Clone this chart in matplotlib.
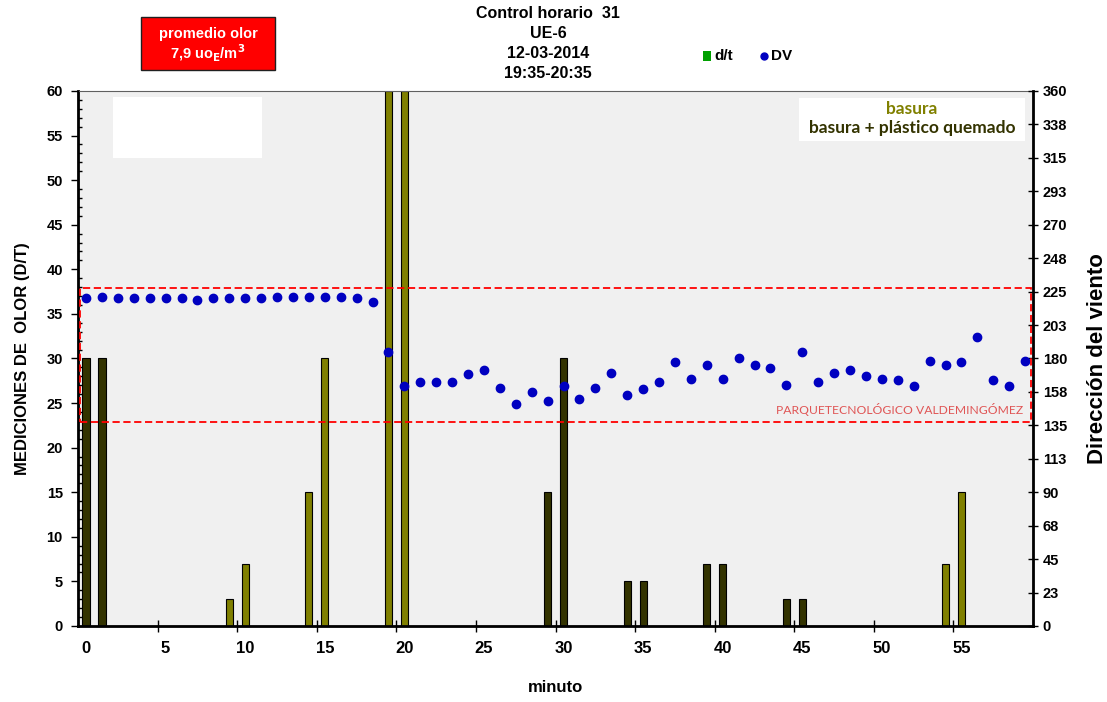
import numpy as np
import matplotlib.pyplot as plt
from matplotlib.patches import Rectangle

plt.rcParams['font.family'] = ['Liberation Sans', 'DejaVu Sans']

# datos
minutos = np.arange(60)
dv = [220.5, 221.3, 220.5, 220.5, 220.5, 220.5, 220.5, 219.5, 220.5, 220.5,
      220.5, 220.5, 221.2, 221.2, 221.2, 221.2, 221.2, 220.5, 218.3, 184.5,
      161.5, 164.4, 164.4, 164.4, 169.6, 172.5, 160.4, 149.4, 157.5, 151.4,
      161.5, 152.5, 160.4, 170.5, 155.4, 159.5, 164.4, 177.3, 166.4, 175.4,
      166.4, 180.6, 175.4, 173.4, 162.4, 184.6, 164.4, 170.5, 172.3, 168.4,
      166.4, 165.5, 161.5, 178.5, 175.4, 177.4, 194.3, 165.5, 161.5, 178.5]
bar_min = [0, 1, 9, 10, 14, 15, 19, 20, 29, 30, 34, 35, 39, 40, 44, 45, 54, 55]
bar_dt = [30, 30, 3, 7, 15, 30, 60, 60, 15, 30, 5, 5, 7, 7, 3, 3, 7, 15]
bar_tipo = ['bq', 'bq', 'b', 'b', 'b', 'b', 'b', 'b', 'bq', 'bq',
            'bq', 'bq', 'bq', 'bq', 'bq', 'bq', 'b', 'b']
colores = {'b': '#808000', 'bq': '#333300'}
x_ticks = [0, 5, 10, 15, 20, 25, 30, 35, 40, 45, 50, 55]
dv_ticks = [0, 22.5, 45, 67.5, 90, 112.5, 135, 157.5, 180, 202.5, 225,
            247.5, 270, 292.5, 315, 337.5, 360]
dv_labels = ['0', '23', '45', '68', '90', '113', '135', '158', '180', '203',
             '225', '248', '270', '293', '315', '338', '360']

fig = plt.figure(figsize=(11.07, 7.02), dpi=100)
ax = fig.add_axes([0.0705, 0.1083, 0.8627, 0.7621])
ax.set_facecolor('#f0f0f0')

ax.bar(bar_min, bar_dt, width=0.45, color=[colores[t] for t in bar_tipo],
       edgecolor='black', linewidth=0.8, zorder=2)

ax.set_xlim(-0.5, 59.5)
ax.set_ylim(0, 60)
ax.set_xticks(x_ticks)
ax.set_xticklabels([str(v) for v in x_ticks], fontsize=12, fontweight='bold')
ax.tick_params(axis='x', length=0, pad=11)
ax.set_xticks(np.arange(4.5, 59, 5), minor=True)
ax.tick_params(axis='x', which='minor', length=8, direction='inout', width=1)
ax.set_yticks(np.arange(0, 61, 5))
ax.set_yticklabels([str(v) for v in range(0, 61, 5)], fontsize=10.5, fontweight='bold')
ax.set_yticks(np.arange(0, 61, 1), minor=True)
ax.tick_params(axis='y', which='major', length=5, direction='out', width=1, pad=6)
ax.tick_params(axis='y', which='minor', length=3, direction='in', width=1)
for s in ['left', 'bottom']:
    ax.spines[s].set_linewidth(2)
ax.spines['top'].set_color('#606060')

ax.set_xlabel('minuto', fontsize=12, fontweight='bold', labelpad=17)
ax.set_ylabel('MEDICIONES DE  OLOR (D/T)', fontsize=12, fontweight='bold', labelpad=12)

ax2 = ax.twinx()
ax2.set_ylim(0, 360)
ax2.plot(minutos, dv, 'o', color='#0000c0', markersize=6, zorder=3)
ax2.set_yticks(dv_ticks)
ax2.set_yticklabels(dv_labels, fontsize=10.5, fontweight='bold')
ax2.tick_params(axis='y', length=7, direction='inout', width=1)
ax2.spines['right'].set_linewidth(2)
ax2.spines['top'].set_visible(False)
ax2.set_ylabel('Dirección del viento', fontsize=16, fontweight='bold', labelpad=14)

# zona del parque tecnologico
ax2.add_patch(Rectangle((-0.4, 137), 59.8, 90.5, fill=False, edgecolor='#ff0000',
                        linestyle=(0, (4, 2)), linewidth=1.3, zorder=4))
ax2.text(58.9, 141, 'PARQUETECNOLÓGICO VALDEMINGÓMEZ', color='#e05555',
         fontsize=8.7, family=['Lato', 'DejaVu Sans'], ha='right', va='bottom', zorder=4)

# cuadro blanco y leyenda de olores
fig.patches.append(Rectangle((113 / 1107, 1 - 158 / 702), 149 / 1107, 61 / 702,
                             transform=fig.transFigure, facecolor='white', zorder=5))
fig.patches.append(Rectangle((799 / 1107, 1 - 141 / 702), 226 / 1107, 43 / 702,
                             transform=fig.transFigure, facecolor='white', zorder=5))
fig.text(912 / 1107, 1 - 109 / 702, 'basura', color='#808000', fontsize=12.5,
         fontweight='bold', family=['Lato', 'DejaVu Sans'], ha='center', va='center', zorder=6)
fig.text(912 / 1107, 1 - 128 / 702, 'basura + plástico quemado', color='#333300',
         fontsize=12.5, fontweight='bold', family=['Lato', 'DejaVu Sans'],
         ha='center', va='center', zorder=6)

# titulo
titulo = ['Control horario  31', 'UE-6', '12-03-2014', '19:35-20:35']
for i, t in enumerate(titulo):
    fig.text(548 / 1107, 1 - (14 + i * 20) / 702, t, fontsize=11.5, fontweight='bold',
             ha='center', va='center')

# leyenda d/t, DV
fig.patches.append(Rectangle((703 / 1107, 1 - 61 / 702), 8 / 1107, 10 / 702,
                             transform=fig.transFigure, facecolor='#00a000'))
fig.text(714 / 1107, 1 - 56 / 702, 'd/t', fontsize=11, fontweight='bold', va='center')
fig.lines.append(plt.Line2D([764 / 1107], [1 - 56 / 702], marker='o', color='#0000c0',
                            markersize=5, transform=fig.transFigure))
fig.text(771 / 1107, 1 - 56 / 702, 'DV', fontsize=11, fontweight='bold', va='center')

# promedio olor
fig.patches.append(Rectangle((141 / 1107, 1 - 70 / 702), 134 / 1107, 53 / 702,
                             transform=fig.transFigure, facecolor='#ff0000',
                             edgecolor='#202020', linewidth=1))
fig.text(208 / 1107, 1 - 34 / 702, 'promedio olor', color='white', fontsize=10.5,
         fontweight='bold', ha='center', va='center')
fig.text(208 / 1107, 1 - 53 / 702, r'7,9 uo$_\mathbf{E}$/m$^\mathbf{3}$', color='white',
         fontsize=10.5, fontweight='bold', ha='center', va='center')

fig.savefig('out.png', dpi=100)
